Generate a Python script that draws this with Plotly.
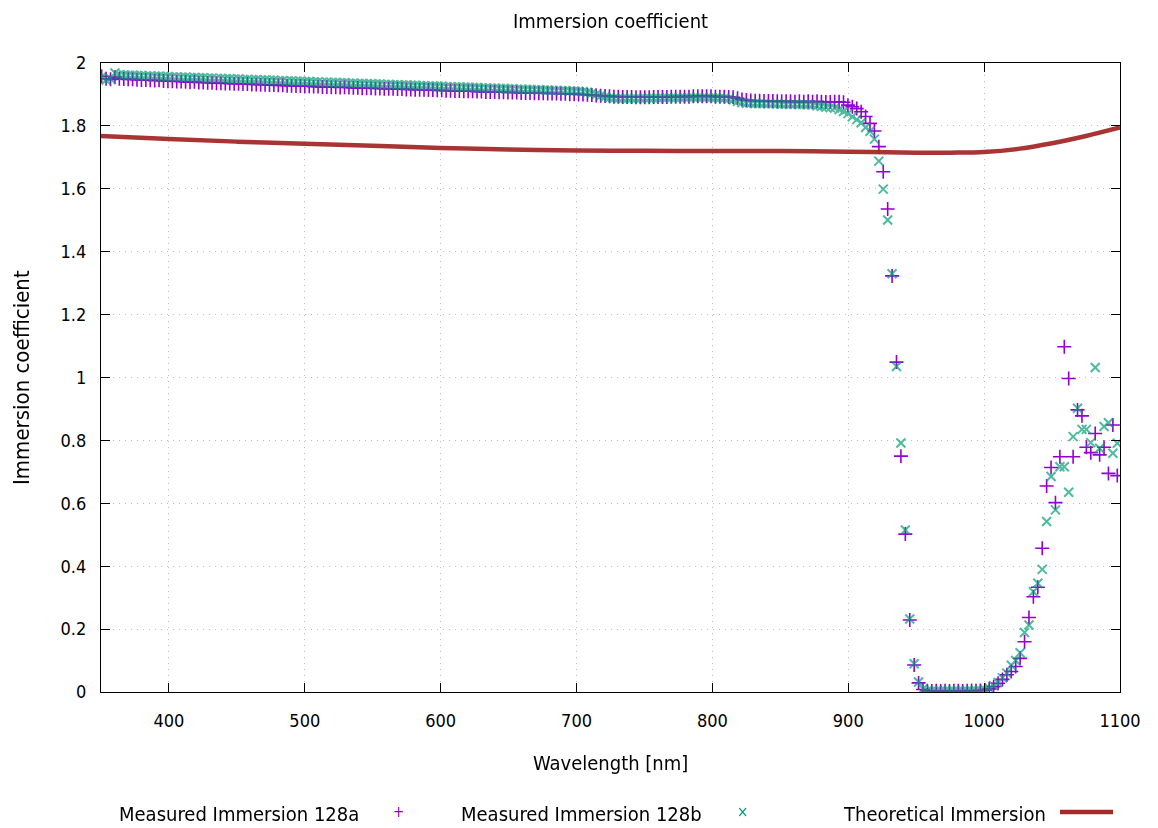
import plotly.graph_objects as go

# Wavelength grid of the measurements [nm]
wavelength = [
    350.5, 353.75, 357.0, 360.25, 363.5, 366.75, 370.0, 373.25,
    376.5, 379.75, 383.0, 386.25, 389.5, 392.75, 396.0, 399.25,
    402.5, 405.75, 409.0, 412.25, 415.5, 418.75, 422.0, 425.25,
    428.5, 431.75, 435.0, 438.25, 441.5, 444.75, 448.0, 451.25,
    454.5, 457.75, 461.0, 464.25, 467.5, 470.75, 474.0, 477.25,
    480.5, 483.75, 487.0, 490.25, 493.5, 496.75, 500.0, 503.25,
    506.5, 509.75, 513.0, 516.25, 519.5, 522.75, 526.0, 529.25,
    532.5, 535.75, 539.0, 542.25, 545.5, 548.75, 552.0, 555.25,
    558.5, 561.75, 565.0, 568.25, 571.5, 574.75, 578.0, 581.25,
    584.5, 587.75, 591.0, 594.25, 597.5, 600.75, 604.0, 607.25,
    610.5, 613.75, 617.0, 620.25, 623.5, 626.75, 630.0, 633.25,
    636.5, 639.75, 643.0, 646.25, 649.5, 652.75, 656.0, 659.25,
    662.5, 665.75, 669.0, 672.25, 675.5, 678.75, 682.0, 685.25,
    688.5, 691.75, 695.0, 698.25, 701.5, 704.75, 708.0, 711.25,
    714.5, 717.75, 721.0, 724.25, 727.5, 730.75, 734.0, 737.25,
    740.5, 743.75, 747.0, 750.25, 753.5, 756.75, 760.0, 763.25,
    766.5, 769.75, 773.0, 776.25, 779.5, 782.75, 786.0, 789.25,
    792.5, 795.75, 799.0, 802.25, 805.5, 808.75, 812.0, 815.25,
    818.5, 821.75, 825.0, 828.25, 831.5, 834.75, 838.0, 841.25,
    844.5, 847.75, 851.0, 854.25, 857.5, 860.75, 864.0, 867.25,
    870.5, 873.75, 877.0, 880.25, 883.5, 886.75, 890.0, 893.25,
    896.5, 899.75, 903.0, 906.25, 909.5, 912.75, 916.0, 919.25,
    922.5, 925.75, 929.0, 932.25, 935.5, 938.75, 942.0, 945.25,
    948.5, 951.75, 955.0, 958.25, 961.5, 964.75, 968.0, 971.25,
    974.5, 977.75, 981.0, 984.25, 987.5, 990.75, 994.0, 997.25,
    1000.5, 1003.75, 1007.0, 1010.25, 1013.5, 1016.75, 1020.0, 1023.25,
    1026.5, 1029.75, 1033.0, 1036.25, 1039.5, 1042.75, 1046.0, 1049.25,
    1052.5, 1055.75, 1059.0, 1062.25, 1065.5, 1068.75, 1072.0, 1075.25,
    1078.5, 1081.75, 1085.0, 1088.25, 1091.5, 1094.75, 1098.0,
]

# Measured immersion coefficient, sample 128a
immersion_128a = [
    1.958, 1.950, 1.948, 1.955, 1.950, 1.949, 1.948, 1.948,
    1.947, 1.946, 1.946, 1.945, 1.944, 1.945, 1.943, 1.942,
    1.942, 1.941, 1.941, 1.940, 1.939, 1.940, 1.938, 1.938,
    1.937, 1.937, 1.936, 1.936, 1.935, 1.935, 1.934, 1.934,
    1.933, 1.933, 1.932, 1.932, 1.931, 1.931, 1.930, 1.930,
    1.929, 1.929, 1.928, 1.928, 1.927, 1.927, 1.926, 1.926,
    1.925, 1.925, 1.924, 1.924, 1.923, 1.923, 1.922, 1.923,
    1.922, 1.921, 1.921, 1.920, 1.920, 1.920, 1.919, 1.919,
    1.918, 1.918, 1.918, 1.917, 1.917, 1.916, 1.916, 1.915,
    1.915, 1.915, 1.914, 1.914, 1.913, 1.913, 1.912, 1.912,
    1.911, 1.911, 1.910, 1.910, 1.910, 1.909, 1.909, 1.908,
    1.908, 1.908, 1.907, 1.907, 1.906, 1.906, 1.906, 1.905,
    1.905, 1.905, 1.904, 1.904, 1.904, 1.903, 1.903, 1.903,
    1.902, 1.902, 1.901, 1.901, 1.900, 1.900, 1.899, 1.898,
    1.897, 1.896, 1.895, 1.894, 1.893, 1.893, 1.892, 1.892,
    1.892, 1.891, 1.891, 1.891, 1.891, 1.892, 1.892, 1.892,
    1.892, 1.893, 1.893, 1.893, 1.893, 1.893, 1.894, 1.894,
    1.894, 1.894, 1.894, 1.893, 1.893, 1.893, 1.892, 1.891,
    1.888, 1.884, 1.882, 1.881, 1.880, 1.880, 1.879, 1.879,
    1.879, 1.878, 1.878, 1.878, 1.878, 1.877, 1.878, 1.877,
    1.878, 1.877, 1.878, 1.877, 1.876, 1.876, 1.877, 1.877,
    1.875, 1.866, 1.861, 1.855, 1.845, 1.830, 1.808, 1.784,
    1.734, 1.654, 1.536, 1.323, 1.049, 0.750, 0.502, 0.229,
    0.086, 0.029, 0.008, 0.004, 0.003, 0.004, 0.003, 0.004,
    0.003, 0.004, 0.004, 0.003, 0.004, 0.005, 0.004, 0.005,
    0.006, 0.010, 0.017, 0.028, 0.040, 0.055, 0.065, 0.081,
    0.107, 0.160, 0.237, 0.303, 0.333, 0.457, 0.655, 0.714,
    0.602, 0.748, 1.098, 0.997, 0.748, 0.897, 0.878, 0.778,
    0.761, 0.822, 0.754, 0.778, 0.695, 0.849, 0.688,
]

# Measured immersion coefficient, sample 128b
immersion_128b = [
    1.956, 1.946, 1.950, 1.968, 1.963, 1.962, 1.961, 1.961,
    1.960, 1.960, 1.959, 1.959, 1.958, 1.958, 1.957, 1.957,
    1.956, 1.956, 1.955, 1.955, 1.954, 1.954, 1.953, 1.953,
    1.952, 1.952, 1.951, 1.951, 1.950, 1.950, 1.949, 1.949,
    1.948, 1.948, 1.947, 1.947, 1.946, 1.946, 1.945, 1.945,
    1.944, 1.944, 1.943, 1.943, 1.942, 1.942, 1.941, 1.941,
    1.940, 1.940, 1.939, 1.939, 1.938, 1.938, 1.937, 1.937,
    1.936, 1.936, 1.935, 1.935, 1.934, 1.934, 1.933, 1.933,
    1.932, 1.932, 1.931, 1.931, 1.930, 1.930, 1.929, 1.929,
    1.928, 1.928, 1.927, 1.927, 1.926, 1.926, 1.925, 1.925,
    1.924, 1.924, 1.923, 1.923, 1.922, 1.922, 1.921, 1.921,
    1.920, 1.920, 1.919, 1.919, 1.918, 1.918, 1.917, 1.917,
    1.916, 1.916, 1.915, 1.915, 1.914, 1.914, 1.913, 1.913,
    1.912, 1.912, 1.911, 1.911, 1.910, 1.909, 1.907, 1.904,
    1.900, 1.896, 1.892, 1.889, 1.888, 1.887, 1.887, 1.887,
    1.887, 1.887, 1.887, 1.888, 1.888, 1.888, 1.888, 1.889,
    1.889, 1.889, 1.889, 1.889, 1.890, 1.890, 1.890, 1.890,
    1.890, 1.890, 1.889, 1.889, 1.889, 1.888, 1.886, 1.883,
    1.878, 1.874, 1.872, 1.872, 1.871, 1.871, 1.871, 1.870,
    1.870, 1.870, 1.869, 1.869, 1.869, 1.869, 1.868, 1.868,
    1.868, 1.866, 1.864, 1.862, 1.860, 1.858, 1.857, 1.852,
    1.846, 1.839, 1.829, 1.820, 1.810, 1.795, 1.783, 1.758,
    1.688, 1.599, 1.501, 1.330, 1.035, 0.792, 0.515, 0.232,
    0.090, 0.032, 0.010, 0.004, 0.004, 0.003, 0.004, 0.004,
    0.003, 0.004, 0.003, 0.004, 0.004, 0.004, 0.005, 0.005,
    0.008, 0.012, 0.020, 0.030, 0.045, 0.060, 0.085, 0.100,
    0.125, 0.189, 0.213, 0.319, 0.346, 0.390, 0.542, 0.685,
    0.579, 0.716, 0.716, 0.635, 0.812, 0.902, 0.835, 0.835,
    0.793, 1.032, 0.775, 0.844, 0.856, 0.759, 0.791,
]

# Theoretical immersion coefficient
theory_wavelength = [350, 400, 450, 500, 550, 600, 650, 700, 750, 800,
                     850, 900, 950, 975, 1000, 1025, 1050, 1075, 1100]
theory_immersion = [1.768, 1.758, 1.750, 1.743, 1.737, 1.730, 1.725, 1.722,
                    1.721, 1.720, 1.720, 1.718, 1.715, 1.715, 1.717, 1.727,
                    1.745, 1.768, 1.795]

x_ticks = [400, 500, 600, 700, 800, 900, 1000, 1100]
y_ticks = [0, 0.2, 0.4, 0.6, 0.8, 1, 1.2, 1.4, 1.6, 1.8, 2]
y_tick_text = ["0", "0.2", "0.4", "0.6", "0.8", "1", "1.2", "1.4", "1.6", "1.8", "2"]

legend_labels = ["Measured Immersion 128a", "Measured Immersion 128b", "Theoretical Immersion"]

COL_A = "#9400d3"
COL_B = "#009e73"
COL_T = "#a52a2a"
FONT = "DejaVu Sans Condensed, DejaVu Sans, sans-serif"

W, H = 1158, 828
L, R, T, B = 101, 38, 63, 136


def px_to_paper_x(px):
    return (px - L) / (W - L - R)


def px_to_paper_y(py):
    return (H - B - py) / (H - T - B)


def label(text, px, py, size=20, color="black", anchor="center", angle=0):
    return dict(text=text, xref="paper", yref="paper",
                x=px_to_paper_x(px), y=px_to_paper_y(py),
                xanchor=anchor, yanchor="middle", showarrow=False,
                textangle=angle, font=dict(family=FONT, size=size, color=color))


fig = go.Figure()

fig.add_trace(go.Scatter(
    x=wavelength, y=immersion_128a, mode="markers", name=legend_labels[0],
    marker=dict(symbol="cross-thin", size=10, color=COL_A,
                line=dict(color=COL_A, width=1.6)),
))
fig.add_trace(go.Scatter(
    x=wavelength, y=immersion_128b, mode="markers", name=legend_labels[1],
    marker=dict(symbol="x-thin", size=9, color=COL_B,
                line=dict(color=COL_B, width=2)),
    opacity=0.7,
))
fig.add_trace(go.Scatter(
    x=theory_wavelength, y=theory_immersion, mode="lines", name=legend_labels[2],
    line=dict(color=COL_T, width=4.5, shape="spline"),
    opacity=0.95,
))

axis_common = dict(
    showline=True, linecolor="black", linewidth=1.2, mirror="ticks",
    ticks="inside", ticklen=9, tickwidth=1.2, tickcolor="black",
    showgrid=True, gridcolor="#bdbdbd", griddash="1px,5px", gridwidth=1,
    zeroline=False, tickfont=dict(family=FONT, size=18, color="black"),
)

fig.update_xaxes(range=[350, 1100], tickvals=x_ticks, ticklabelstandoff=12,
                 **axis_common)
fig.update_yaxes(range=[0, 2], tickvals=y_ticks, ticktext=y_tick_text,
                 ticklabelstandoff=10, **axis_common)

annotations = [
    label("Immersion coefficient", 610, 21),
    label("Wavelength [nm]", 610, 763),
    label("Immersion coefficient", 21, 378, size=22, angle=-90),
    # legend entries: label followed by its sample glyph
    label(legend_labels[0], 361, 814, anchor="right"),
    label("+", 398, 812, size=15, color=COL_A),
    label(legend_labels[1], 704, 814, anchor="right"),
    label("×", 742, 812, size=15, color=COL_B),
    label(legend_labels[2], 1048, 814, anchor="right"),
]

shapes = [
    dict(type="line", xref="paper", yref="paper",
         x0=px_to_paper_x(1060), x1=px_to_paper_x(1113),
         y0=px_to_paper_y(812), y1=px_to_paper_y(812),
         line=dict(color=COL_T, width=4.5)),
]

fig.update_layout(
    width=W, height=H,
    margin=dict(l=L, r=R, t=T, b=B),
    paper_bgcolor="white", plot_bgcolor="white",
    showlegend=False,
    annotations=annotations, shapes=shapes,
    font=dict(family=FONT, color="black"),
)

fig.write_html("out.html")
